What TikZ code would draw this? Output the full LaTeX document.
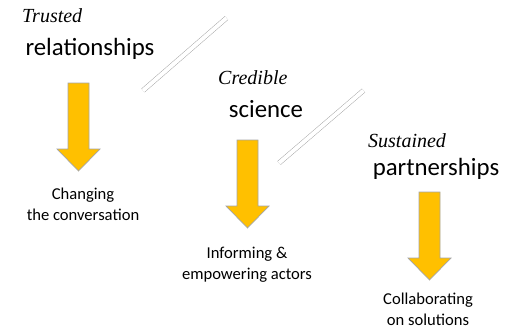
\documentclass[tikz,border=0pt]{standalone}
\usepackage{fontspec}
\setmainfont{Carlito}
\newfontfamily\garafont{Liberation Serif}
\usetikzlibrary{positioning}
\definecolor{gold}{HTML}{FFC000}
\definecolor{rim}{HTML}{A5A5A5}
\definecolor{divgray}{HTML}{A0A0A0}
% block arrow pointing down, #1 = top centre of the shaft
\newcommand{\blockarrow}[1]{%
    \draw[goldarrow] (#1) ++(-10.5,0) -- ++(0,-66) -- ++(-11,0) -- ++(21.5,-22)
        -- ++(21.5,22) -- ++(-11,0) -- ++(0,66) -- cycle;%
}

\begin{document}
\begin{tikzpicture}[x=1pt,y=1pt,
lead/.style={inner sep=0pt,font=\garafont\itshape\fontsize{20}{24}\selectfont},
heading/.style={inner sep=0pt,font=\fontsize{24.8}{28}\selectfont},
outcome/.style={inner sep=0pt,align=center,font=\fontsize{16.6}{20.5}\selectfont},
goldarrow/.style={fill=gold,draw=rim,line width=0.7pt,line join=miter},
divider/.style={draw=divgray,line width=0.45pt,double=white,double distance=4pt}]
\useasboundingbox (0,0) rectangle (516,-330);

%titles of the three steps
\node[lead,anchor=base west] (trusted) at (22,-22) {Trusted};
\node[heading,anchor=base] (rel) at (90,-55) {relationships};
\node[lead,anchor=base west] (cred) at (218,-84) {Credible};
\node[heading,anchor=base] (sci) at (266,-117) {science};
\node[lead,anchor=base west] (sust) at (368,-147) {Sustained};
\node[heading,anchor=base] (part) at (436,-175) {partnerships};

%arrows under each title
\coordinate (top1) at (78.5,-83);
\coordinate (top2) at (247.5,-140);
\coordinate (top3) at (429.5,-192);
\foreach \t in {top1,top2,top3}{
	\blockarrow{\t}
}

%what each step leads to
\node[outcome,anchor=north] (chg) at (83,-188) {Changing\\the conversation};
\node[outcome,anchor=north] (inf) at (247,-247) {Informing \&\\empowering actors};
\node[outcome,anchor=north] (col) at (428,-293) {Collaborating\\on solutions};

%double strokes between the steps
\coordinate (d1a) at (143,-90.5);
\coordinate (d1b) at (226.5,-18);
\coordinate (d2a) at (279,-163);
\coordinate (d2b) at (363.5,-90.5);
\draw[divider] (d1a) -- (d1b);
\draw[divider] (d2a) -- (d2b);

\end{tikzpicture}
\end{document}
